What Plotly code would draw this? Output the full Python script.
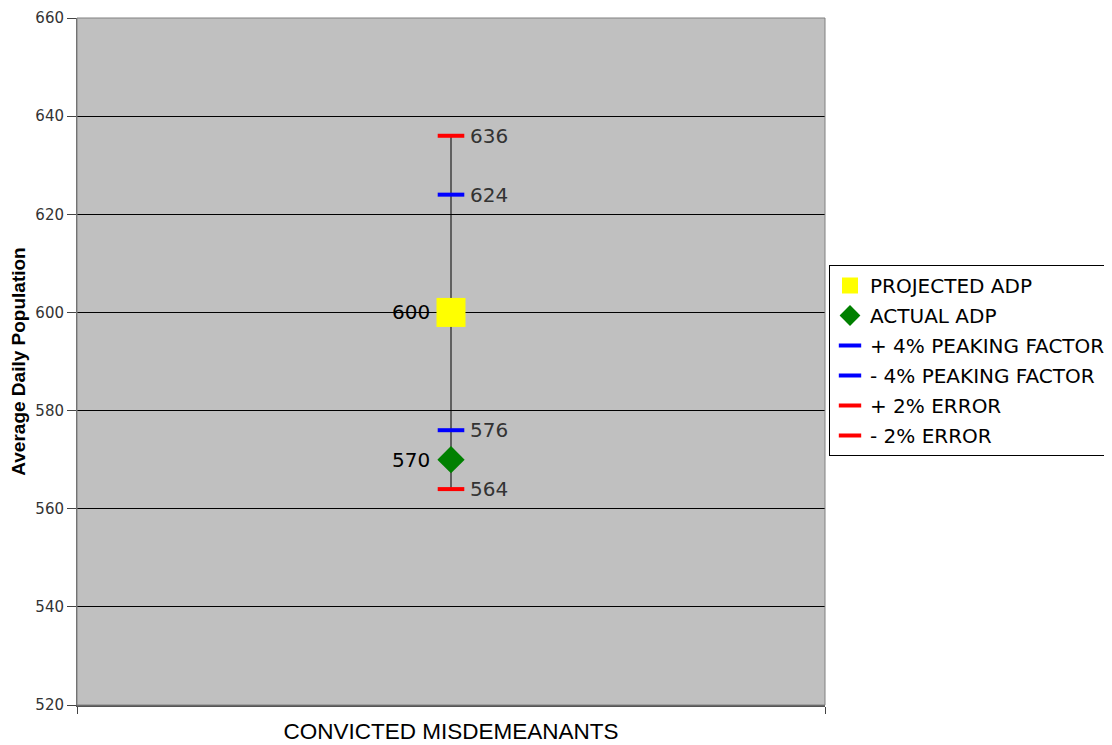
import plotly.graph_objects as go

category = ["CONVICTED MISDEMEANANTS"]
projected_adp = [600]
actual_adp = [570]
plus_peak = [624]
minus_peak = [576]
plus_err = [636]
minus_err = [564]
y_ticks = [520, 540, 560, 580, 600, 620, 640, 660]

# The page places the figure at an 8px body offset; compensate.
OFF = 8
W, H = 1112 - OFF, 745 - OFF

fig = go.Figure()

# high-low line
fig.add_trace(go.Scatter(
    x=category * 2, y=[minus_err[0], plus_err[0]], mode="lines",
    line=dict(color="black", width=1), showlegend=False, hoverinfo="skip"))

fig.add_trace(go.Scatter(
    x=category, y=projected_adp, mode="markers", name="PROJECTED ADP",
    marker=dict(symbol="square", size=29, color="#FFFF00", line=dict(width=0))))
fig.add_trace(go.Scatter(
    x=category, y=actual_adp, mode="markers", name="ACTUAL ADP",
    marker=dict(symbol="diamond", size=21, color="#008000", line=dict(width=0))))
fig.add_trace(go.Scatter(
    x=category, y=plus_peak, mode="markers", name="+ 4% PEAKING FACTOR",
    marker=dict(symbol="line-ew", size=19, color="#0000FF", line=dict(width=4, color="#0000FF"))))
fig.add_trace(go.Scatter(
    x=category, y=minus_peak, mode="markers", name="- 4% PEAKING FACTOR",
    marker=dict(symbol="line-ew", size=19, color="#0000FF", line=dict(width=4, color="#0000FF"))))
fig.add_trace(go.Scatter(
    x=category, y=plus_err, mode="markers", name="+ 2% ERROR",
    marker=dict(symbol="line-ew", size=19, color="#FF0000", line=dict(width=4, color="#FF0000"))))
fig.add_trace(go.Scatter(
    x=category, y=minus_err, mode="markers", name="- 2% ERROR",
    marker=dict(symbol="line-ew", size=19, color="#FF0000", line=dict(width=4, color="#FF0000"))))

annotations = []
for v in [plus_err[0], plus_peak[0], minus_peak[0], minus_err[0]]:
    annotations.append(dict(x=category[0], y=v, xref="x", yref="y", text=str(v),
                            showarrow=False, xanchor="left", xshift=17,
                            font=dict(family="DejaVu Sans", size=20, color="#333333")))
for v in [projected_adp[0], actual_adp[0]]:
    annotations.append(dict(x=category[0], y=v, xref="x", yref="y", text=str(v),
                            showarrow=False, xanchor="right", xshift=-19,
                            font=dict(family="DejaVu Sans", size=20, color="#000000")))

fig.update_layout(
    width=W, height=H,
    margin=dict(l=77 - OFF, r=W - (825 - OFF), t=18 - OFF, b=H - (705 - OFF),
                autoexpand=False),
    paper_bgcolor="white",
    plot_bgcolor="#C0C0C0",
    showlegend=True,
    legend=dict(
        xref="container", yref="container",
        x=(829 - OFF) / W, y=1 - (265 - OFF) / H,
        xanchor="left", yanchor="top",
        bgcolor="white", bordercolor="black", borderwidth=1,
        font=dict(family="DejaVu Sans", size=20, color="#000000"),
        tracegroupgap=1, itemwidth=30,
    ),
    annotations=annotations,
    xaxis=dict(
        type="category", range=[-0.5, 0.5], tickson="boundaries",
        ticks="outside", ticklen=7, tickcolor="#444444",
        showline=True, linecolor="#555555", linewidth=2,
        showgrid=False, mirror=False, automargin=False,
        tickfont=dict(family="Liberation Sans", size=22.5, color="#000000"),
        ticklabelstandoff=5,
        title=None,
    ),
    yaxis=dict(
        range=[520, 660], tickvals=y_ticks,
        ticks="outside", ticklen=9, tickcolor="#444444",
        showline=True, linecolor="#666666", linewidth=1,
        showgrid=True, gridcolor="#000000", gridwidth=1,
        zeroline=False, automargin=False,
        tickfont=dict(family="DejaVu Sans", size=15, color="#333333"),
        title=dict(text="<b>Average Daily Population</b>",
                   font=dict(family="Liberation Sans", size=19, color="#000000"),
                   standoff=8),
    ),
    shapes=[dict(type="rect", xref="paper", yref="paper", x0=0, y0=0, x1=1, y1=1,
                 line=dict(color="#808080", width=1), layer="above")],
)

for i, t in enumerate(fig.data):
    t.legendgroup = "g%d" % i

fig.write_html("out.html")
